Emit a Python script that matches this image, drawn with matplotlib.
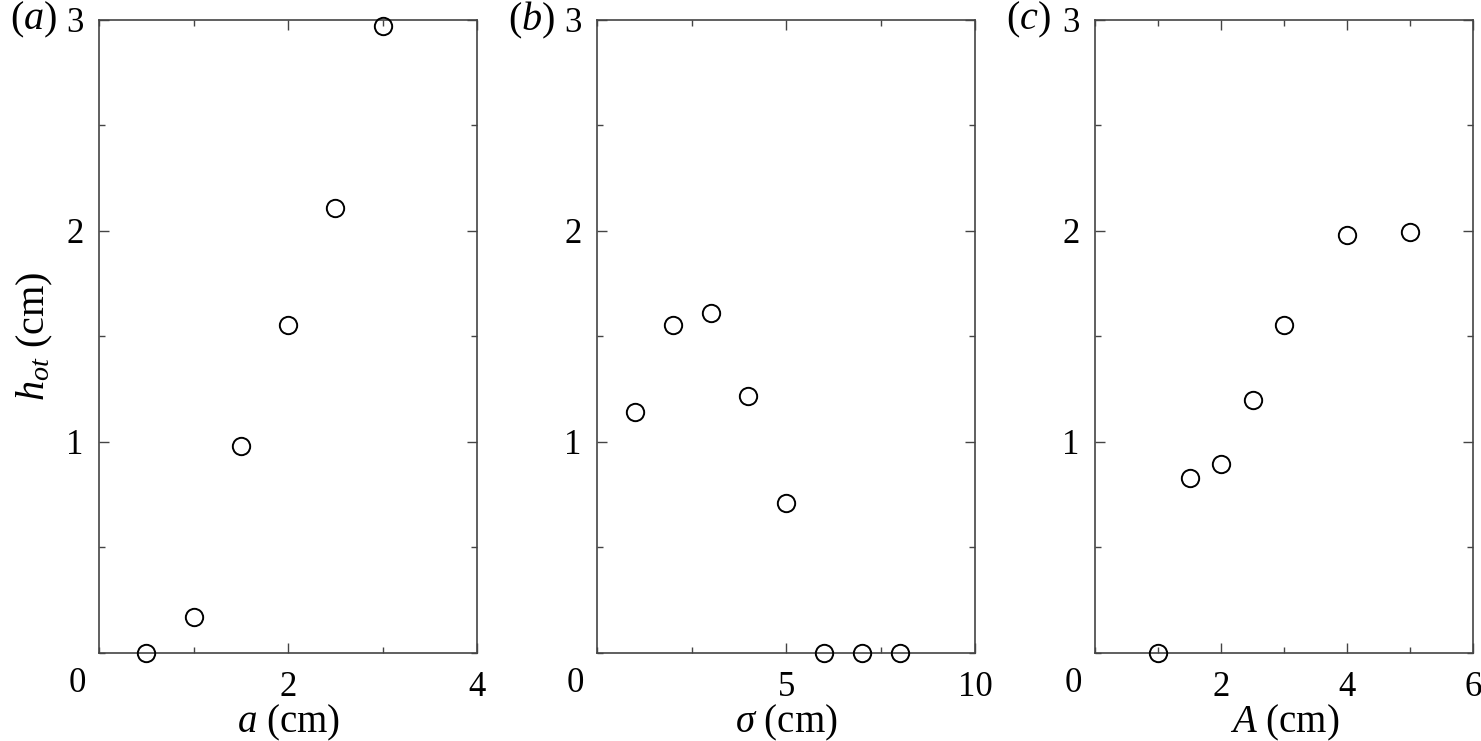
import matplotlib
matplotlib.use("Agg")
import matplotlib.pyplot as plt
from matplotlib.ticker import MultipleLocator

plt.rcParams['font.family'] = ['Liberation Serif', 'DejaVu Serif']
plt.rcParams['mathtext.fontset'] = 'custom'
plt.rcParams['mathtext.rm'] = 'Liberation Serif'
plt.rcParams['mathtext.it'] = 'Liberation Serif:italic'

# data
a_vals = [0.5, 1.0, 1.5, 2.0, 2.5, 3.0]
h_a = [0.0, 0.17, 0.98, 1.555, 2.11, 2.97]

sigma_vals = [1, 2, 3, 4, 5, 6, 7, 8]
h_sigma = [1.14, 1.555, 1.61, 1.22, 0.71, 0.0, 0.0, 0.0]

A_vals = [1, 1.5, 2, 2.5, 3, 4, 5]
h_A = [0.0, 0.83, 0.895, 1.2, 1.555, 1.98, 1.995]

panels = [
    (r"($a$)", a_vals, h_a, 4, 2, 1, r"$a$ (cm)"),
    (r"($b$)", sigma_vals, h_sigma, 10, 5, 2.5, r"$\sigma$ (cm)"),
    (r"($c$)", A_vals, h_A, 6, 2, 1, r"$A$ (cm)"),
]
lefts = [0.0668, 0.4031, 0.7394]

fig = plt.figure(figsize=(14.81, 7.41), dpi=100)
edge = '#444444'
fs = 25

for i, (tag, x, y, xmax, xmaj, xmin, xlab) in enumerate(panels):
    ax = fig.add_axes([lefts[i], 0.1188, 0.2555, 0.8543])
    ax.plot(x, y, 'o', mfc='none', mec='black', ms=12.5, mew=1.4, clip_on=False, zorder=3)
    ax.set_xlim(0, xmax)
    ax.set_ylim(0, 3)
    ax.xaxis.set_major_locator(MultipleLocator(xmaj))
    ax.xaxis.set_minor_locator(MultipleLocator(xmin))
    ax.yaxis.set_major_locator(MultipleLocator(1))
    ax.yaxis.set_minor_locator(MultipleLocator(0.5))
    ax.tick_params(which='both', direction='in', top=True, right=True, color=edge,
                   labelsize=fs, width=1)
    ax.tick_params(which='major', length=7)
    ax.tick_params(which='minor', length=4)
    ax.tick_params(axis='x', pad=13)
    ax.tick_params(axis='y', pad=11)
    for s in ax.spines.values():
        s.set_color(edge)
        s.set_linewidth(1.2)
    # the shared corner label "0" replaces both zero ticks
    xt = [t for t in ax.get_xticks() if 0 < t <= xmax]
    ax.set_xticks(xt)
    ax.set_xticklabels([f"{t:g}" for t in xt])
    ax.set_yticks([1, 2, 3])
    ax.set_yticklabels(["1", "2", "3"])
    ax.text(-0.057, -0.048, "0", transform=ax.transAxes, fontsize=fs,
            ha='center', va='center')
    ax.set_xlabel(xlab, fontsize=28, labelpad=-1)
    ax.text(-0.235, 1.0, tag, transform=ax.transAxes, fontsize=29,
            ha='left', va='center')
    if i == 0:
        ax.set_ylabel(r"$h_{ot}$ (cm)", fontsize=29, labelpad=8)

fig.savefig("out.png", dpi=100)
